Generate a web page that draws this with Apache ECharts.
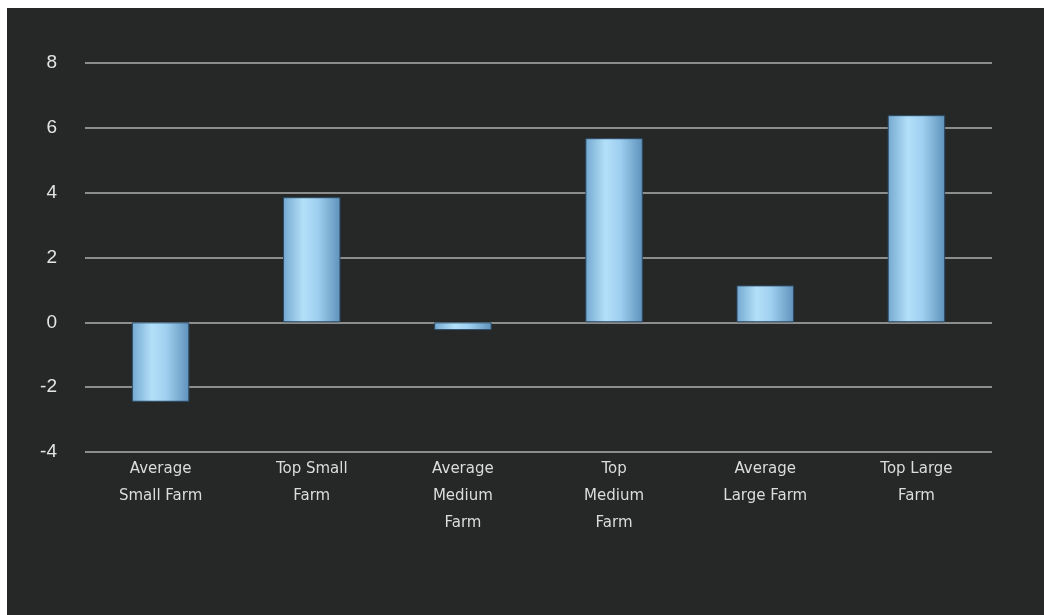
<!DOCTYPE html>
<html>
<head>
<meta charset="utf-8">
<script src="https://cdn.jsdelivr.net/npm/echarts@6/dist/echarts.min.js"></script>
<style>
html,body{margin:0;padding:0;background:#ffffff;width:1044px;height:615px;overflow:hidden;}
#wrap{position:absolute;left:7px;top:8px;width:1037px;height:607px;background:#252827;}
#chart{width:1037px;height:607px;}
</style>
</head>
<body>
<div id="wrap"><div id="chart"></div></div>
<script>
const categories = ["Average\nSmall Farm", "Top Small\nFarm", "Average\nMedium\nFarm", "Top\nMedium\nFarm", "Average\nLarge Farm", "Top Large\nFarm"];
const values = [-2.45, 3.86, -0.24, 5.68, 1.14, 6.39];
const yTicks = [-4, -2, 0, 2, 4, 6, 8];

const chart = echarts.init(document.getElementById('chart'), null, {renderer: 'canvas'});
const barGradient = new echarts.graphic.LinearGradient(0, 0, 1, 0, [
  {offset: 0, color: '#73a8cf'},
  {offset: 0.35, color: '#b3e0f9'},
  {offset: 0.6, color: '#9fd0f0'},
  {offset: 1, color: '#5f92bb'}
]);
chart.setOption({
  backgroundColor: '#252827',
  animation: false,
  grid: {left: 78, right: 52, top: 55, bottom: 163, containLabel: false},
  xAxis: {
    type: 'category',
    data: categories,
    axisLine: {show: false},
    axisTick: {show: false},
    axisLabel: {
      color: '#dcdcdc',
      fontFamily: 'DejaVu Sans',
      fontSize: 15,
      lineHeight: 27,
      margin: 4,
      interval: 0
    }
  },
  yAxis: {
    type: 'value',
    min: yTicks[0],
    max: yTicks[yTicks.length - 1],
    interval: 2,
    axisLine: {show: false},
    axisTick: {show: false},
    axisLabel: {
      color: '#e4e4e4',
      fontFamily: 'Liberation Sans',
      fontSize: 19,
      margin: 28,
      formatter: v => String(v)
    },
    splitLine: {lineStyle: {color: '#8c8e8d', width: 2}}
  },
  series: [{
    type: 'bar',
    data: values,
    barWidth: '38%',
    itemStyle: {color: barGradient, borderColor: '#2d4a66', borderWidth: 1}
  }]
});
</script>
</body>
</html>
